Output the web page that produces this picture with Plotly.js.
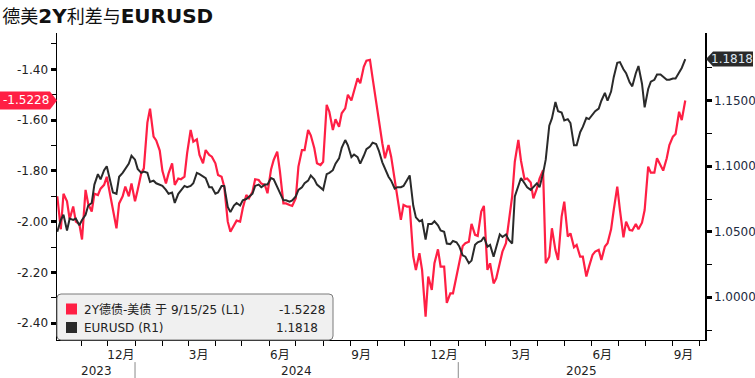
<!DOCTYPE html>
<html><head><meta charset="utf-8">
<script src="https://cdn.plot.ly/plotly-3.0.1.min.js"></script>
<style>html,body{margin:0;padding:0;background:#fff}#chart{width:755px;height:378px}</style>
</head><body><div id="chart"></div>
<script>
// ---------- data ----------
const dates = [
'2023-10-05','2023-10-09','2023-10-12','2023-10-16','2023-10-19','2023-10-23','2023-10-26','2023-10-30',
'2023-11-02','2023-11-06','2023-11-09','2023-11-13','2023-11-16','2023-11-20','2023-11-23','2023-11-27','2023-11-30',
'2023-12-04','2023-12-07','2023-12-11','2023-12-14','2023-12-18','2023-12-21','2023-12-25','2023-12-28',
'2024-01-01','2024-01-04','2024-01-08','2024-01-11','2024-01-15','2024-01-18','2024-01-22','2024-01-25','2024-01-29',
'2024-02-01','2024-02-05','2024-02-08','2024-02-12','2024-02-15','2024-02-19','2024-02-22','2024-02-26','2024-02-29',
'2024-03-04','2024-03-07','2024-03-11','2024-03-14','2024-03-18','2024-03-21','2024-03-25','2024-03-28',
'2024-04-01','2024-04-04','2024-04-08','2024-04-11','2024-04-15','2024-04-18','2024-04-22','2024-04-25','2024-04-29',
'2024-05-02','2024-05-06','2024-05-09','2024-05-13','2024-05-16','2024-05-20','2024-05-23','2024-05-27','2024-05-30',
'2024-06-03','2024-06-06','2024-06-10','2024-06-13','2024-06-17','2024-06-20','2024-06-24','2024-06-27',
'2024-07-01','2024-07-04','2024-07-08','2024-07-11','2024-07-15','2024-07-18','2024-07-22','2024-07-25','2024-07-29',
'2024-08-01','2024-08-05','2024-08-08','2024-08-12','2024-08-15','2024-08-19','2024-08-22','2024-08-26','2024-08-29',
'2024-09-02','2024-09-05','2024-09-09','2024-09-12','2024-09-16','2024-09-19','2024-09-23','2024-09-26','2024-09-30',
'2024-10-03','2024-10-07','2024-10-10','2024-10-14','2024-10-17','2024-10-21','2024-10-24','2024-10-28','2024-10-31',
'2024-11-04','2024-11-07','2024-11-11','2024-11-14','2024-11-18','2024-11-21','2024-11-25','2024-11-28',
'2024-12-02','2024-12-05','2024-12-09','2024-12-12','2024-12-16','2024-12-19','2024-12-23','2024-12-26','2024-12-30',
'2025-01-02','2025-01-06','2025-01-09','2025-01-13','2025-01-16','2025-01-20','2025-01-23','2025-01-27','2025-01-30',
'2025-02-03','2025-02-06','2025-02-10','2025-02-13','2025-02-17','2025-02-20','2025-02-24','2025-02-27',
'2025-03-03','2025-03-06','2025-03-10','2025-03-13','2025-03-17','2025-03-20','2025-03-24','2025-03-27','2025-03-31',
'2025-04-03','2025-04-07','2025-04-10','2025-04-14','2025-04-17','2025-04-21','2025-04-24','2025-04-28',
'2025-05-01','2025-05-05','2025-05-08','2025-05-12','2025-05-15','2025-05-19','2025-05-22','2025-05-26','2025-05-29',
'2025-06-02','2025-06-05','2025-06-09','2025-06-12','2025-06-16','2025-06-19','2025-06-23','2025-06-26','2025-06-30',
'2025-07-03','2025-07-07','2025-07-10','2025-07-14','2025-07-17','2025-07-21','2025-07-24','2025-07-28','2025-07-31',
'2025-08-04','2025-08-07','2025-08-11','2025-08-14','2025-08-18','2025-08-21','2025-08-25','2025-08-28',
'2025-09-01','2025-09-04','2025-09-08','2025-09-11','2025-09-15'
];
// 2Y Bund - UST spread (left axis)
const spread = [
-1.90,-2.03,-1.89,-1.92,-1.99,-1.94,-2.00,-2.01,
-2.07,-1.875,-1.93,-1.96,-1.89,-1.895,-1.87,-1.855,-1.823,
-1.90,-1.96,-2.026,-1.928,-1.90,-1.862,-1.90,-1.85,
-1.92,-1.875,-1.81,-1.79,-1.61,-1.555,-1.665,-1.68,-1.72,
-1.80,-1.85,-1.81,-1.77,-1.855,-1.83,-1.833,-1.823,-1.73,
-1.639,-1.685,-1.676,-1.737,-1.77,-1.718,-1.737,-1.744,
-1.77,-1.816,-1.823,-1.862,-2.00,-2.04,-2.013,-1.996,-2.00,
-1.947,-1.895,-1.908,-1.882,-1.833,-1.836,-1.85,-1.855,-1.888,
-1.794,-1.757,-1.724,-1.80,-1.928,-1.928,-1.934,-1.938,
-1.908,-1.783,-1.718,-1.718,-1.639,-1.66,-1.711,-1.77,-1.777,
-1.764,-1.54,-1.567,-1.639,-1.597,-1.626,-1.573,-1.554,-1.50,
-1.523,-1.481,-1.435,-1.455,-1.39,-1.366,-1.363,-1.435,-1.534,
-1.606,-1.691,-1.75,-1.698,-1.744,-1.829,-1.90,-1.993,-1.934,
-1.941,-1.941,-2.137,-2.19,-2.124,-2.19,-2.374,-2.216,
-2.269,-2.164,-2.109,-2.177,-2.177,-2.32,-2.282,-2.282,-2.216,
-2.157,-2.096,-2.085,-2.079,-2.009,-2.052,-2.056,-1.96,-1.938,
-2.19,-2.164,-2.243,-2.223,-2.164,-2.118,-2.085,-2.009,
-1.90,-1.764,-1.678,-1.76,-1.833,-1.83,-1.846,-1.908,-1.869,
-1.83,-1.797,-2.164,-2.138,-2.026,-2.112,-2.151,-1.98,
-1.921,-2.059,-2.046,-2.101,-2.092,-2.138,-2.138,-2.216,-2.177,
-2.131,-2.118,-2.111,-2.151,-2.098,-2.085,-2.03,-1.954,-1.862,
-1.954,-2.062,-2.00,-2.033,-2.035,-2.009,-2.03,-2.004,-1.954,
-1.783,-1.807,-1.807,-1.75,-1.78,-1.799,-1.75,-1.698,
-1.665,-1.655,-1.567,-1.60,-1.5228
];
// EURUSD (right axis)
const eurusd = [
1.050,1.059,1.063,1.051,1.060,1.059,1.060,1.055,
1.059,1.063,1.070,1.072,1.086,1.094,1.090,1.097,1.100,
1.088,1.080,1.079,1.092,1.095,1.098,1.102,1.108,
1.105,1.098,1.095,1.096,1.095,1.088,1.089,1.087,1.086,
1.085,1.082,1.079,1.080,1.072,1.079,1.082,1.085,1.084,
1.085,1.087,1.095,1.094,1.092,1.091,1.084,1.084,
1.079,1.080,1.085,1.085,1.069,1.065,1.070,1.072,1.070,
1.074,1.075,1.077,1.079,1.085,1.086,1.084,1.086,1.086,
1.091,1.090,1.084,1.079,1.074,1.074,1.073,1.074,
1.077,1.082,1.084,1.087,1.089,1.093,1.090,1.086,1.084,
1.082,1.094,1.095,1.097,1.102,1.106,1.114,1.120,1.116,
1.107,1.109,1.107,1.102,1.108,1.113,1.115,1.118,1.117,
1.112,1.103,1.098,1.092,1.089,1.083,1.084,1.084,1.085,
1.089,1.093,1.070,1.061,1.058,1.059,1.044,1.056,
1.056,1.058,1.055,1.051,1.050,1.041,1.0406,1.043,1.042,
1.039,1.032,1.031,1.026,1.028,1.040,1.042,1.043,1.046,
1.0386,1.040,1.031,1.038,1.048,1.046,1.048,1.044,
1.041,1.077,1.086,1.091,1.087,1.084,1.082,1.084,1.087,
1.084,1.0946,1.105,1.131,1.1365,1.149,1.142,1.141,
1.135,1.136,1.133,1.116,1.116,1.126,1.130,1.137,1.136,
1.139,1.142,1.144,1.150,1.156,1.150,1.157,1.168,1.179,
1.1795,1.174,1.171,1.164,1.161,1.171,1.1765,1.163,1.145,
1.159,1.1645,1.166,1.170,1.170,1.168,1.166,1.166,
1.167,1.167,1.172,1.175,1.1818
];
const spreadName = '2Y德债-美债';
const fxName = 'EURUSD';
const lastDateLabel = '9/15/25';
const titleParts = ['德美', '2Y', '利差与', 'EURUSD'];

const monthTickVals = ['2023-12-16','2024-03-13','2024-06-13','2024-09-13','2024-12-16','2025-03-13','2025-06-13','2025-09-13'];
const monthTickText = ['12月','3月','6月','9月','12月','3月','6月','9月'];
const leftTickVals = [-2.4,-2.2,-2.0,-1.8,-1.6,-1.4];
const leftTickText = ['-2.40','-2.20','-2.00','-1.80','-1.60','-1.40'];
const rightTickVals = [1.00,1.05,1.10,1.15];
const rightTickText = ['1.0000','1.0500','1.1000','1.1500'];
const xRange = ['2023-10-04 16:00','2025-10-07 08:00'];
const leftRange = [-2.466,-1.257];
const rightRange = [0.9674,1.2017];

// ---------- styling ----------
const RED = '#ff1f44';
const DARK = '#2a2a2a';
const FONT = 'DejaVu Sans, Noto Sans CJK SC, sans-serif';

const lastSpread = spread[spread.length-1];
const lastFx = eurusd[eurusd.length-1];

const latin = s => '<span style="font-weight:bold;font-size:20px">' + s + '</span>';
const titleText = titleParts[0] + latin(titleParts[1]) + titleParts[2] + latin(titleParts[3]);

function toMs(s){ return Date.parse(s.replace(' ','T')+'Z'); }
function toStr(ms){ return new Date(ms).toISOString().slice(0,19).replace('T',' '); }

const shapes = [];
const annotations = [];

// year row under month labels
const r0 = toMs(xRange[0]), r1 = toMs(xRange[1]);
const yA = new Date(r0).getUTCFullYear(), yB = new Date(r1).getUTCFullYear();
for (let y = yA; y <= yB; y++) {
  const a = Math.max(r0, Date.UTC(y,0,1)), b = Math.min(r1, Date.UTC(y+1,0,1));
  annotations.push({x: toStr((a+b)/2), xref:'x', y:-0.101, yref:'paper', yanchor:'middle',
    text: String(y), showarrow:false, font:{family:FONT, size:12, color:'#222'}});
  if (y > yA) {
    const d = toStr(Date.UTC(y,0,1));
    shapes.push({type:'line', xref:'x', yref:'paper', x0:d, x1:d, y0:-0.072, y1:-0.13,
      line:{color:'#8a8a8a', width:1}});
  }
}

// legend box
shapes.push({type:'path', xref:'paper', yref:'paper', xsizemode:'pixel', ysizemode:'pixel',
  xanchor:0, yanchor:0, layer:'above',
  path:'M0,4 L0,42 Q0,46 4,46 L272,46 Q276,46 276,42 L276,4 Q276,0 272,0 L4,0 Q0,0 0,4 Z',
  fillcolor:'#f0f0f0', line:{color:'#7a7a7a', width:1}});
shapes.push({type:'rect', xref:'paper', yref:'paper', xsizemode:'pixel', ysizemode:'pixel',
  xanchor:0, yanchor:0, layer:'above', x0:9, x1:20, y0:25.5, y1:36.5, fillcolor:RED, line:{width:0}});
shapes.push({type:'rect', xref:'paper', yref:'paper', xsizemode:'pixel', ysizemode:'pixel',
  xanchor:0, yanchor:0, layer:'above', x0:9, x1:20, y0:7, y1:18, fillcolor:DARK, line:{width:0}});
const legFont = {family:FONT, size:12, color:'#222'};
annotations.push({xref:'paper', yref:'paper', x:0.0386, y:0.0993, xanchor:'left', yanchor:'middle',
  text: spreadName + ' 于 ' + lastDateLabel + ' (L1)', showarrow:false, font:legFont});
annotations.push({xref:'paper', yref:'paper', x:0.4167, y:0.0993, xanchor:'right', yanchor:'middle',
  text: lastSpread.toFixed(4), showarrow:false, font:legFont});
annotations.push({xref:'paper', yref:'paper', x:0.0386, y:0.0407, xanchor:'left', yanchor:'middle',
  text: fxName + ' (R1)', showarrow:false, font:legFont});
annotations.push({xref:'paper', yref:'paper', x:0.406, y:0.0407, xanchor:'right', yanchor:'middle',
  text: lastFx.toFixed(4), showarrow:false, font:legFont});

// last value tags
shapes.push({type:'path', xref:'paper', yref:'y', xsizemode:'pixel', ysizemode:'pixel',
  xanchor:0, yanchor:lastSpread, path:'M0,0 L-7,9 L-57,9 L-57,-9 L-7,-9 Z',
  fillcolor:RED, line:{width:0}});
annotations.push({xref:'paper', yref:'y', x:0, y:lastSpread, xanchor:'center', yanchor:'middle',
  xshift:-31, text:lastSpread.toFixed(4), showarrow:false, font:{family:FONT, size:12, color:'#ffffff'}});
shapes.push({type:'path', xref:'paper', yref:'y2', xsizemode:'pixel', ysizemode:'pixel',
  xanchor:1, yanchor:lastFx, path:'M1,0 L8,7.5 L48,7.5 L48,-7.5 L8,-7.5 Z',
  fillcolor:DARK, line:{width:0}});
annotations.push({xref:'paper', yref:'y2', x:1, y:lastFx, xanchor:'center', yanchor:'middle',
  xshift:27, text:lastFx.toFixed(4), showarrow:false, font:{family:FONT, size:12, color:'#dfe8f2'}});

const traces = [
  {x: dates, y: spread, type:'scatter', mode:'lines', yaxis:'y', name: spreadName,
   line:{color:RED, width:2.2}},
  {x: dates, y: eurusd, type:'scatter', mode:'lines', yaxis:'y2', name: fxName,
   line:{color:DARK, width:2}}
];

const layout = {
  width:755, height:378,
  margin:{l:57, r:50, t:33, b:38},
  paper_bgcolor:'#ffffff', plot_bgcolor:'#ffffff',
  showlegend:false, hovermode:false,
  font:{family:FONT, size:12, color:'#222'},
  title:{text:titleText, x:0.003, xref:'container', xanchor:'left', y:0.955, yref:'container', yanchor:'middle',
    font:{family:FONT, size:18, color:'#111'}},
  xaxis:{type:'date', range:xRange, showgrid:false, zeroline:false,
    showline:true, linecolor:'#000', linewidth:1,
    tickmode:'array', tickvals:monthTickVals, ticktext:monthTickText,
    ticks:'outside', ticklen:4, tickcolor:'rgba(0,0,0,0)',
    tickfont:{family:FONT, size:12, color:'#222'},
    minor:{tickmode:'linear', dtick:'M1', tick0:'2023-11-01', ticks:'outside', ticklen:5, tickcolor:'#000', tickwidth:1, showgrid:false}},
  yaxis:{range:leftRange, side:'left', showgrid:false, zeroline:false,
    showline:true, linecolor:'#000', linewidth:1.5,
    tickmode:'array', tickvals:leftTickVals, ticktext:leftTickText,
    ticks:'outside', ticklen:5, tickwidth:3, tickcolor:'#000',
    tickfont:{family:FONT, size:12, color:'#222'},
    minor:{tickmode:'linear', tick0:-1.5, dtick:0.2, ticks:'outside', ticklen:5, tickwidth:1, tickcolor:'#000', showgrid:false}},
  yaxis2:{range:rightRange, side:'right', overlaying:'y', showgrid:false, zeroline:false,
    showline:true, linecolor:'#000', linewidth:1.5,
    tickmode:'array', tickvals:rightTickVals, ticktext:rightTickText,
    ticks:'outside', ticklen:5, tickwidth:3, tickcolor:'#000',
    tickfont:{family:FONT, size:12, color:'#1c2a40'},
    minor:{tickmode:'linear', tick0:1.025, dtick:0.05, ticks:'outside', ticklen:5, tickwidth:1, tickcolor:'#000', showgrid:false}},
  shapes: shapes,
  annotations: annotations
};

Plotly.newPlot('chart', traces, layout, {staticPlot:true, displayModeBar:false});
</script>
</body></html>
